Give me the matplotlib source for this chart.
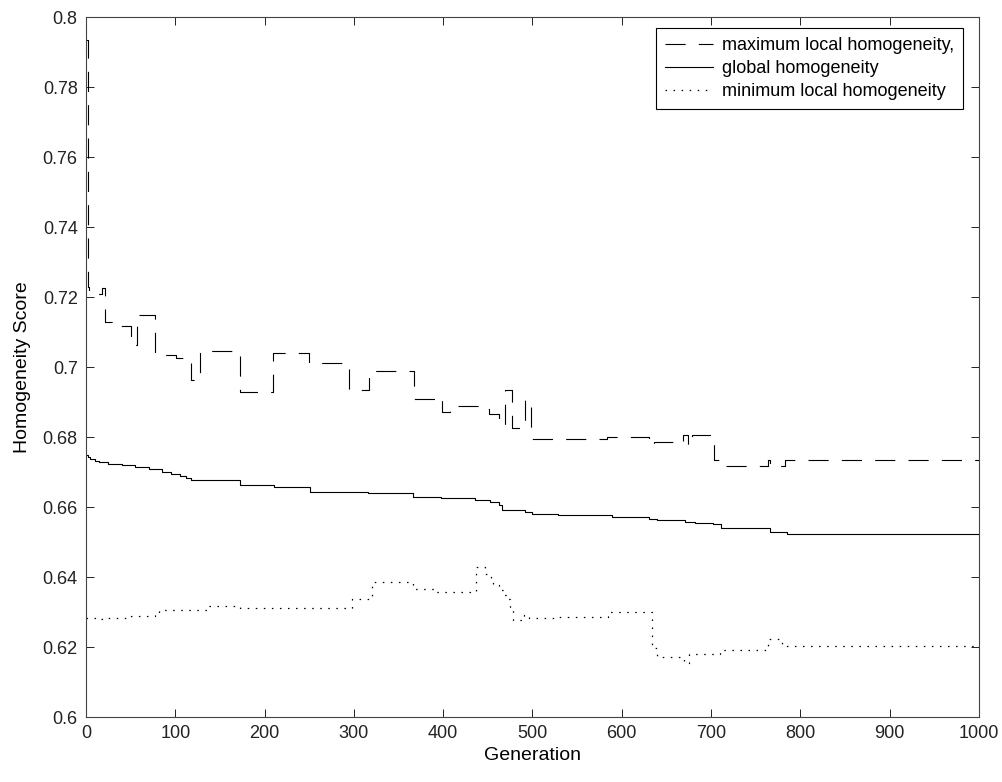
import matplotlib
matplotlib.use('Agg')
import numpy as np
from matplotlib import pyplot as plt

plt.rcParams['font.family'] = ['Liberation Sans', 'DejaVu Sans']
plt.rcParams['lines.scale_dashes'] = False

# step breakpoints: (generation, score), held until the next generation
max_gen = [0, 2, 3, 18, 21, 35, 50, 57, 77, 101, 118, 128, 172, 209, 250, 295,
           317, 367, 393, 399, 408, 442, 451, 463, 469, 477, 492, 498, 583, 631,
           636, 660, 669, 674, 679, 703, 709, 764, 766, 783, 1000]
max_val = [0.7934, 0.7229, 0.7209, 0.7226, 0.7129, 0.7117, 0.7062, 0.7149, 0.7034,
           0.7025, 0.6963, 0.7047, 0.6930, 0.7040, 0.7011, 0.6934, 0.6990, 0.6910,
           0.6913, 0.6872, 0.6889, 0.6880, 0.6866, 0.6834, 0.6934, 0.6825, 0.6906,
           0.6793, 0.6799, 0.6777, 0.6785, 0.6782, 0.6806, 0.6778, 0.6806, 0.6734,
           0.6717, 0.6734, 0.6717, 0.6734, 0.6734]

glob_gen = [0, 2, 5, 10, 15, 25, 40, 55, 70, 85, 95, 105, 112, 118, 172, 210, 251,
            316, 366, 398, 436, 452, 462, 466, 492, 499, 529, 589, 630, 639, 671,
            682, 702, 711, 766, 785, 1000]
glob_val = [0.6748, 0.6742, 0.6738, 0.6732, 0.6728, 0.6724, 0.6720, 0.6714, 0.6708,
            0.6701, 0.6695, 0.6690, 0.6684, 0.6677, 0.6663, 0.6656, 0.6644, 0.6639,
            0.6629, 0.6625, 0.6620, 0.6613, 0.6605, 0.6591, 0.6585, 0.6580, 0.6577,
            0.6572, 0.6567, 0.6563, 0.6556, 0.6553, 0.6551, 0.6539, 0.6529, 0.6523,
            0.6523]

min_gen = [0, 12, 18, 50, 77, 82, 100, 136, 172, 298, 320, 366, 391, 437, 447, 453,
           456, 463, 468, 470, 475, 478, 491, 496, 524, 585, 634, 639, 670, 675, 710,
           762, 764, 779, 1000]
min_val = [0.6284, 0.6280, 0.6283, 0.6288, 0.6296, 0.6307, 0.6307, 0.6318, 0.6312,
           0.6336, 0.6385, 0.6366, 0.6358, 0.6429, 0.6410, 0.6395, 0.6377, 0.6362,
           0.6349, 0.6337, 0.6310, 0.6277, 0.6291, 0.6282, 0.6287, 0.6301, 0.6196,
           0.6172, 0.6153, 0.6180, 0.6191, 0.6201, 0.6222, 0.6204, 0.6204]

fig = plt.figure(figsize=(10.03, 7.82), dpi=100)
ax = fig.add_axes([86 / 1003, 1 - 717 / 782, 893 / 1003, 700 / 782])

ax.step(max_gen, max_val, where='post', color='black', lw=0.8,
        linestyle=(0, (14.5, 9.5)), label='maximum local homogeneity,')
ax.step(glob_gen, glob_val, where='post', color='black', lw=0.8,
        linestyle='-', label='global homogeneity')
ax.step(min_gen, min_val, where='post', color='black', lw=0.9,
        linestyle=(0, (1.1, 4.7)), label='minimum local homogeneity')

ax.set_xlim(0, 1000)
ax.set_ylim(0.6, 0.8)
ax.set_xticks(np.arange(0, 1001, 100))
ax.set_yticks(np.arange(0.6, 0.8001, 0.02))
ax.set_yticklabels(['0.6', '0.62', '0.64', '0.66', '0.68', '0.7', '0.72',
                    '0.74', '0.76', '0.78', '0.8'])
ax.tick_params(direction='in', top=True, right=True, length=6, width=0.7,
               labelsize=13, colors='#222222', pad=6)
for s in ax.spines.values():
    s.set_linewidth(0.8)
    s.set_color('#444444')

ax.set_xlabel('Generation', fontsize=14, labelpad=3)
ax.set_ylabel('Homogeneity Score', fontsize=14, labelpad=8)

leg = ax.legend(loc='upper right', bbox_to_anchor=(0.982, 0.984),
                borderaxespad=0, fontsize=13, frameon=True, fancybox=False,
                edgecolor='black', framealpha=1, handlelength=2.65,
                handletextpad=0.5, labelspacing=0.33, borderpad=0.5)
leg.get_frame().set_linewidth(0.8)

fig.savefig('out.png', dpi=100)
